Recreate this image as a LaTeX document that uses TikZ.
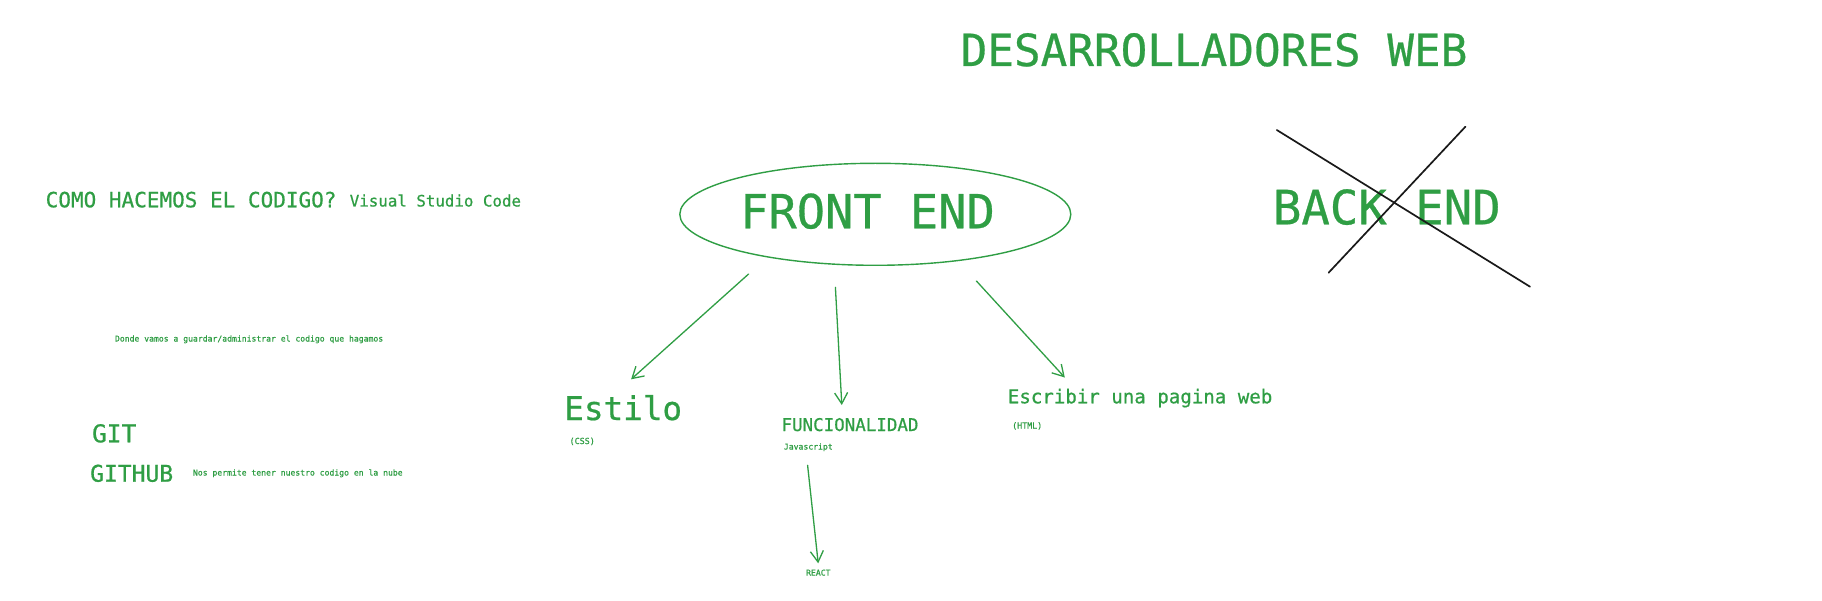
\documentclass[tikz,border=0pt]{standalone}
\usepackage{fontspec}
\newfontfamily\monofam[FakeBold=0.6]{DejaVu Sans Mono}
\usetikzlibrary{shapes.geometric,arrows.meta}
\definecolor{exgreen}{HTML}{2F9E44}
\newcommand\myfs[1]{\fontsize{#1}{#1}\selectfont\monofam}
\begin{document}
\begin{tikzpicture}[x=1pt,y=-1pt,
  lbl/.style={anchor=base, inner sep=0pt, text=exgreen},
  conn/.style={draw=exgreen, line width=1.3pt, line cap=round, -{Straight Barb[length=11pt,width=13pt,line width=1.3pt]}},
  cross/.style={draw=black!90, line width=1.7pt, line cap=round},
  bubble/.style={draw=exgreen, line width=1.4pt, ellipse, inner sep=0pt}]
\fill[white] (0,0) rectangle (1822,601);
\useasboundingbox (0,0) rectangle (1822,601);

% titles
\node[lbl] (title) at (1214,66) {\myfs{44.3}DESARROLLADORES WEB};
\node[bubble, minimum width=391pt, minimum height=102pt] (feell) at (875.3,214.3) {};
\node[lbl] (fe) at (867.5,228.3) {\myfs{47}FRONT END};
\node[lbl] (be) at (1386.8,224.3) {\myfs{47.3}BACK END};

% cross over BACK END
\coordinate (c1a) at (1276.8,130);
\coordinate (c1b) at (1530,286.7);
\coordinate (c2a) at (1465.4,126.7);
\coordinate (c2b) at (1328.6,272.7);
\draw[cross] (c1a) -- (c1b);
\draw[cross] (c2a) -- (c2b);

% left column
\node[lbl] (como) at (191.1,207.3) {\myfs{21}COMO HACEMOS EL CODIGO?};
\node[lbl] (vsc) at (435.4,206.5) {\myfs{15.8}Visual Studio Code};
\node[lbl] (donde) at (249.1,341.5) {\myfs{8.1}Donde vamos a guardar/administrar el codigo que hagamos};
\node[lbl] (git) at (114.2,442.3) {\myfs{24.5}GIT};
\node[lbl] (github) at (131.7,481.7) {\myfs{23}GITHUB};
\node[lbl] (nube) at (297.8,475.5) {\myfs{8.1}Nos permite tener nuestro codigo en la nube};

% branches
\node[lbl] (estilo) at (623.2,420) {\myfs{32.6}Estilo};
\node[lbl] (css) at (582.2,444) {\myfs{8.4}(CSS)};
\node[lbl] (func) at (850,431) {\myfs{17.5}FUNCIONALIDAD};
\node[lbl] (js) at (808.3,449.5) {\myfs{8.1}Javascript};
\node[lbl] (esc) at (1140.1,403.3) {\myfs{19.1}Escribir una pagina web};
\node[lbl] (html) at (1027.2,428.5) {\myfs{8.3}(HTML)};
\node[lbl] (react) at (818.3,575.6) {\myfs{8.1}REACT};

% connectors
\coordinate (a1s) at (748.6,274);
\coordinate (a1e) at (631.1,379.3);
\coordinate (a2s) at (835.4,287.3);
\coordinate (a2e) at (841.8,405);
\coordinate (a3s) at (976.4,281);
\coordinate (a3e) at (1064.8,377.5);
\coordinate (a4s) at (807.6,465.3);
\coordinate (a4e) at (818.2,563.3);
\draw[conn] (a1s) -- (a1e);
\draw[conn] (a2s) -- (a2e);
\draw[conn] (a3s) -- (a3e);
\draw[conn] (a4s) -- (a4e);
\end{tikzpicture}
\end{document}
